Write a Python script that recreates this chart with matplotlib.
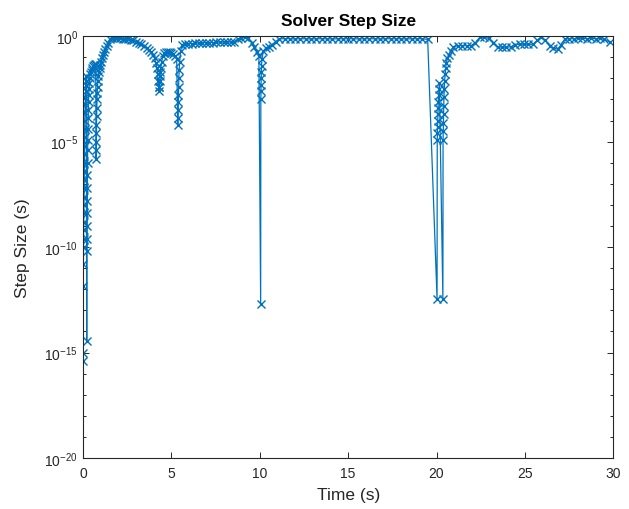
import numpy as np
import matplotlib
matplotlib.use('Agg')
import matplotlib.pyplot as plt
from matplotlib.ticker import LogLocator, FixedLocator, NullFormatter

plt.rcParams['font.family'] = ['Liberation Sans', 'DejaVu Sans']
plt.rcParams['mathtext.default'] = 'regular'

# time (s) of each solver step
time_s = [
    # start-up spike near t = 0
    0.00, 0.00, 0.01, 0.02, 0.03, 0.03, 0.04, 0.04, 0.05, 0.05, 0.06, 0.06, 0.07, 0.07,
    0.08, 0.08, 0.09, 0.09, 0.10, 0.10, 0.11, 0.12, 0.13, 0.14, 0.15, 0.16, 0.18,
    0.21, 0.22, 0.23, 0.23, 0.24, 0.24, 0.25, 0.25, 0.26, 0.26, 0.27, 0.28, 0.29, 0.30,
    0.31, 0.32, 0.34, 0.36, 0.38, 0.41, 0.44, 0.48, 0.52, 0.57, 0.62, 0.67,
    0.72, 0.74, 0.75, 0.75, 0.76, 0.76, 0.77, 0.78, 0.79, 0.80, 0.82, 0.84, 0.87, 0.90,
    0.94, 0.98, 1.03, 1.08, 1.14, 1.20, 1.27, 1.34, 1.42, 1.50,
    # top and arc down to t = 4.3
    1.65, 1.80, 1.95, 2.10, 2.25, 2.40, 2.55, 2.70, 2.85, 3.00, 3.15, 3.30, 3.45, 3.60,
    3.75, 3.85, 3.95, 4.05, 4.12,
    4.18, 4.22, 4.25, 4.28, 4.30, 4.32, 4.34, 4.36, 4.38, 4.40, 4.45, 4.52, 4.60, 4.70,
    4.80, 4.90, 5.00, 5.10, 5.20,
    # dip near t = 5.4
    5.30, 5.36, 5.37, 5.38, 5.39, 5.40, 5.41, 5.42, 5.44, 5.47, 5.52, 5.60,
    5.75, 5.95, 6.15, 6.35, 6.55, 6.75, 6.95, 7.15, 7.35, 7.55, 7.75, 7.95, 8.15, 8.35,
    8.55, 8.75, 8.95, 9.15, 9.35, 9.55, 9.70, 9.85, 9.95,
    # spike at t = 10
    10.05, 10.06, 10.07, 10.07, 10.08, 10.09, 10.10, 10.12, 10.20, 10.35, 10.50, 10.70,
    10.90, 11.10,
    11.4, 11.7, 12.0, 12.3, 12.6, 12.9, 13.2, 13.5, 13.8, 14.1, 14.4, 14.7, 15.0, 15.3,
    15.6, 15.9, 16.2, 16.5, 16.8, 17.1, 17.4, 17.7, 18.0, 18.3, 18.6, 18.9, 19.2, 19.5,
    # spike at t = 20
    20.03, 20.04, 20.05, 20.06, 20.07, 20.08, 20.09, 20.10, 20.12, 20.14, 20.16,
    20.36, 20.37, 20.38, 20.39, 20.40, 20.41, 20.42, 20.44, 20.46, 20.49, 20.52, 20.56,
    20.62, 20.70, 20.80, 20.95,
    21.2, 21.45, 21.7, 21.95, 22.2, 22.45, 22.7, 22.95, 23.2, 23.45, 23.7, 23.95, 24.2,
    24.45, 24.7, 24.95, 25.2, 25.45, 25.7, 25.9, 26.15, 26.4, 26.6, 26.85, 27.05, 27.25,
    27.5, 27.75, 28.0, 28.25, 28.5, 28.75, 29.0, 29.25, 29.5, 29.8,
]

# log10 of the step size (s) at each of those times
log_step = [
    -15.4, -15.0, -11.85, -10.8, -10.0, -9.6, -9.2, -8.8, -8.4, -8.0, -7.6, -7.2, -6.8, -6.4,
    -6.0, -5.6, -5.2, -4.8, -4.4, -4.0, -3.6, -3.2, -2.9, -2.6, -2.3, -2.1, -1.9,
    -14.45, -10.2, -9.6, -9.0, -8.4, -7.8, -7.2, -6.6, -6.0, -5.4, -4.9, -4.4, -3.9, -3.5,
    -3.1, -2.8, -2.5, -2.2, -2.0, -1.8, -1.7, -1.6, -1.5, -1.4, -1.35, -1.3,
    -1.3, -5.8, -5.4, -5.0, -4.6, -4.2, -3.8, -3.4, -3.0, -2.7, -2.4, -2.1, -1.9, -1.7,
    -1.5, -1.35, -1.2, -1.05, -0.9, -0.75, -0.6, -0.45, -0.3, -0.15,
    -0.1, -0.08, -0.08, -0.1, -0.12, -0.12, -0.15, -0.18, -0.2, -0.25, -0.3, -0.38, -0.45, -0.55,
    -0.65, -0.75, -0.9, -1.05, -1.25,
    -1.5, -1.8, -2.1, -2.4, -2.6, -2.4, -2.1, -1.9, -1.7, -1.5, -1.2, -0.95, -0.8, -0.75,
    -0.75, -0.75, -0.8, -0.85, -0.95,
    -1.1, -4.2, -3.9, -3.5, -3.1, -2.8, -2.4, -2.0, -1.6, -1.2, -0.7, -0.4,
    -0.35, -0.35, -0.35, -0.33, -0.32, -0.32, -0.3, -0.3, -0.3, -0.28, -0.28, -0.28, -0.28, -0.27,
    -0.25, -0.15, -0.07, -0.05, -0.1, -0.3, -0.5, -0.75, -0.95,
    -12.7, -3.0, -2.6, -2.3, -2.0, -1.7, -1.4, -1.1, -0.7, -0.55, -0.5, -0.4,
    -0.25, -0.12,
    -0.12, -0.12, -0.13, -0.12, -0.12, -0.13, -0.12, -0.12, -0.12, -0.13, -0.12, -0.12, -0.12, -0.12,
    -0.13, -0.12, -0.12, -0.12, -0.13, -0.12, -0.12, -0.12, -0.12, -0.13, -0.12, -0.12, -0.12, -0.15,
    -12.46, -4.9, -4.6, -4.3, -4.0, -3.7, -3.4, -3.1, -2.8, -2.5, -2.2,
    -12.46, -4.9, -4.5, -4.1, -3.7, -3.3, -2.9, -2.5, -2.1, -1.8, -1.5, -1.25,
    -1.05, -0.9, -0.7, -0.5,
    -0.45, -0.45, -0.45, -0.45, -0.3, -0.05, -0.05, -0.1, -0.3, -0.5, -0.52, -0.52, -0.5,
    -0.4, -0.38, -0.38, -0.38, -0.38, -0.2, -0.05, -0.2, -0.45, -0.55, -0.62, -0.4, -0.14,
    -0.12, -0.12, -0.1, -0.1, -0.12, -0.1, -0.12, -0.1, -0.15, -0.28,
]

x_ticks = [0, 5, 10, 15, 20, 25, 30]
y_ticks = [1e-20, 1e-15, 1e-10, 1e-5, 1e0]

step = 10.0 ** np.array(log_step)

fig = plt.figure(figsize=(6.29, 5.10), dpi=100)
ax = fig.add_axes([0.132, 0.100, 0.843, 0.827])

ax.semilogy(time_s, step, '-x', color='#0072BD', linewidth=0.9,
            markersize=5.5, markeredgewidth=1.0)

ax.set_xlim(0, 30)
ax.set_ylim(1e-20, 1e0)
ax.set_xticks(x_ticks)
ax.yaxis.set_major_locator(FixedLocator(y_ticks))
ax.yaxis.set_minor_locator(LogLocator(base=10, subs=(1.0,), numticks=30))
ax.yaxis.set_minor_formatter(NullFormatter())

gray = '#262626'
for s in ax.spines.values():
    s.set_color(gray)
    s.set_linewidth(0.8)
ax.tick_params(which='both', direction='in', top=True, right=True,
               colors=gray, labelsize=10, width=0.7)
ax.tick_params(which='major', length=4)
ax.tick_params(which='minor', length=2.5)
ax.tick_params(axis='x', pad=6)

ax.set_title('Solver Step Size', fontsize=12.5, fontweight='bold', color='black', pad=8)
ax.set_xlabel('Time (s)', fontsize=12.5, color=gray)
ax.set_ylabel('Step Size (s)', fontsize=12.5, color=gray)
ax.xaxis.set_label_coords(0.5, -0.068)
ax.yaxis.set_label_coords(-0.1, 0.5)

fig.savefig('out.png', dpi=100)
